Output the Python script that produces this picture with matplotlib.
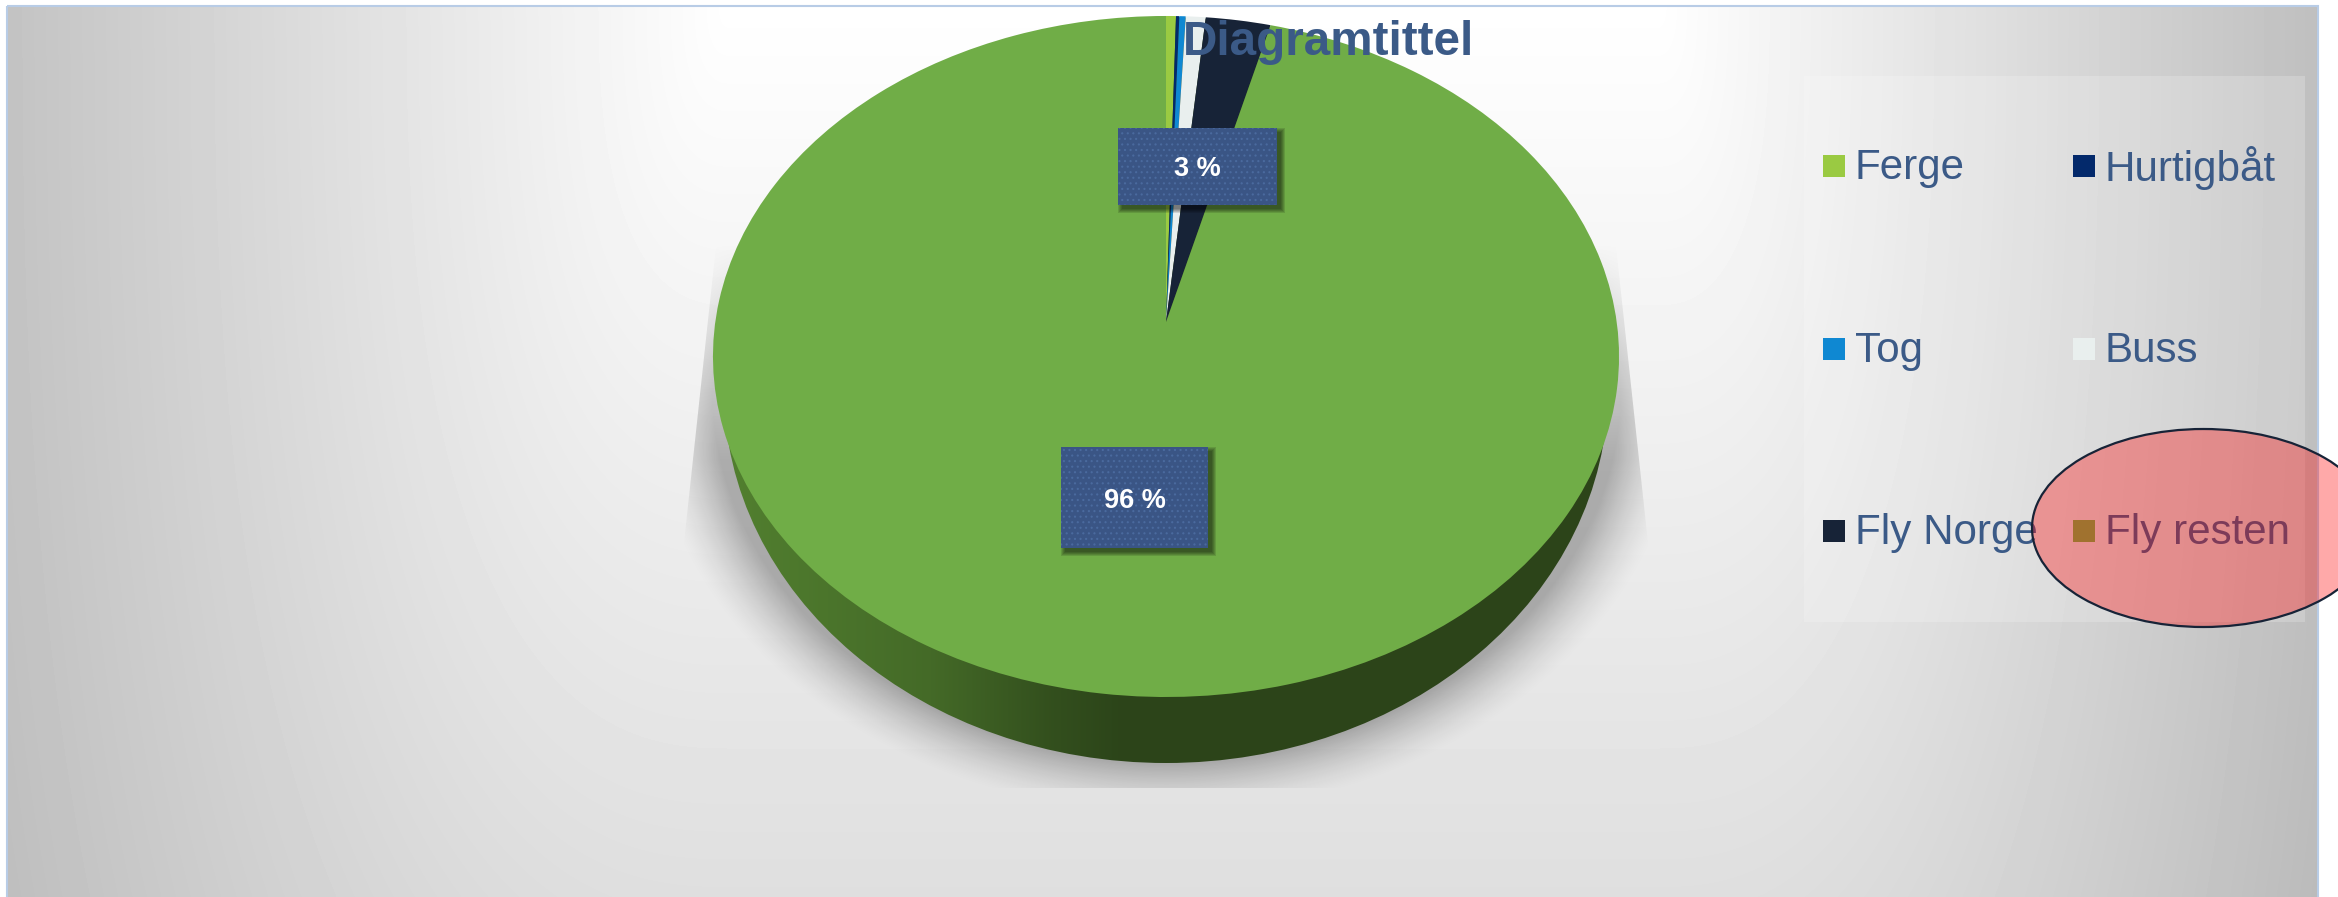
import matplotlib
matplotlib.use("Agg")
import matplotlib.pyplot as plt
import numpy as np
from matplotlib.patches import Ellipse, Polygon, Rectangle
from matplotlib.transforms import Transform

plt.rcParams['font.family'] = ['Liberation Sans', 'DejaVu Sans']
plt.rcParams['hatch.linewidth'] = 0.8

# Data
categories = ["Ferge", "Hurtigbåt", "Tog", "Buss", "Fly Norge", "Fly resten"]
shares = [0.39, 0.13, 0.25, 0.78, 2.55, 95.90]
slice_colors = ["#9ACA42", "#03296B", "#0F88D2", "#E9EFEE", "#172337", "#70AD47"]
labelled = ["Fly Norge", "Fly resten"]
title = "Diagramtittel"

W, H = 2338, 897
TEXT = "#3B5A87"
BOX = "#3A5585"


class Tilt(Transform):
    # perspective from the unit circle of the pie to pixels
    input_dims = output_dims = 2
    is_separable = False
    has_inverse = False

    def transform_non_affine(self, values):
        v = np.asarray(values, dtype=float)
        w = 1 + 0.1013 * v[:, 1]
        return np.column_stack([1166 + 450.7 * v[:, 0] / w,
                                (322 - 304.4 * v[:, 1]) / w])


fig = plt.figure(figsize=(W / 100, H / 100), dpi=100)
ax = fig.add_axes([0, 0, 1, 1])

wedges, _ = ax.pie(shares, colors=slice_colors, startangle=90, counterclock=False,
                   wedgeprops={'linewidth': 0})
ax.set_aspect('auto')
ax.set_xlim(0, W)
ax.set_ylim(H, 0)
ax.axis('off')
tilt = Tilt() + ax.transData
for w in wedges:
    w.set_transform(tilt)
    w.set_zorder(5)

# Background
xx, yy = np.meshgrid(np.arange(W), np.arange(H))
drop_x = np.maximum(0.083 * (730 - xx), 0.0967 * (xx - 1656))
drop_x = np.clip(drop_x, 0, None)
drop = (drop_x ** 2.5 + (yy * 32 / 890) ** 2.5) ** (1 / 2.5)
im = ax.imshow(255 - drop, cmap='gray', vmin=0, vmax=255, extent=(0, W, H, 0), aspect='auto', zorder=0)
im.set_clip_path(Rectangle((7, 6), 2311, H, transform=ax.transData))
ax.add_patch(Rectangle((6.5, 6), 2311.5, H, facecolor='none', edgecolor="#B8CCE6", lw=1.5, zorder=1))

# Shadow under the pie
r = np.sqrt(((xx - 1166) / 522) ** 2 + ((yy - 390) / 425) ** 2)
shadow = np.zeros((H, W, 4))
shadow[..., 3] = 0.28 * np.clip((1 - r) / 0.13, 0, 1) ** 1.5 * np.clip((yy - 240) / 220, 0, 1)
im = ax.imshow(shadow, extent=(0, W, H, 0), aspect='auto', zorder=2)
im.set_clip_path(Polygon([(716, 246), (683, 552), (683, 788), (1649, 788), (1649, 552), (1616, 246)],
                         closed=True, transform=ax.transData))

# Rim of the pie
rim_col = np.interp(np.arange(W), [724, 930, 1050, 1120, 1620], [0x52, 0x44, 0x33, 0x2C, 0x2C])
rim = np.zeros((1, W, 3))
rim[0, :, 0] = rim_col / 255
rim[0, :, 1] = (rim_col * 1.56) / 255
rim[0, :, 2] = (rim_col * 0.58) / 255
im = ax.imshow(rim, extent=(0, W, H, 0), aspect='auto', zorder=3)
im.set_clip_path(Ellipse((1166, 390), 884, 746, transform=ax.transData))

ax.set_xlim(0, W)
ax.set_ylim(H, 0)

# Data labels
boxes = [(1118, 128, 159, 77), (1061, 447, 147, 101)]
for name, (x, y, bw, bh) in zip(labelled, boxes):
    for g in range(5):
        ax.add_patch(Rectangle((x + 4 - g, y + 4 - g), bw + 2 * g, bh + 2 * g, facecolor='black',
                               alpha=0.12, lw=0, zorder=6))
    ax.add_patch(Rectangle((x, y), bw, bh, facecolor=BOX, edgecolor="#4A6A9E", hatch='...', lw=0, zorder=7))
    ax.text(x + bw / 2, y + bh / 2 + 3, f"{shares[categories.index(name)]:.0f} %", color='white', fontsize=19.5,
            fontweight='bold', ha='center', va='center', zorder=8)

ax.text(1183, 55, title, color=TEXT, fontsize=34.3, fontweight='bold', ha='left', va='baseline', zorder=9)

# Legend panel
ax.add_patch(Rectangle((1804, 76), 501, 546, facecolor='white', alpha=0.2, lw=0, zorder=4))
legend_x = [1823, 2073]
legend_y = [166, 349, 531]
for i, name in enumerate(categories):
    x, y = legend_x[i % 2], legend_y[i // 2]
    ax.add_patch(Rectangle((x, y - 11), 22, 22, facecolor=slice_colors[i], lw=0, zorder=9))
    ax.text(x + 32, y + 2, name, color=TEXT, fontsize=30.3, ha='left', va='center', zorder=9)

# Red ellipse over the last legend entry
ax.add_patch(Ellipse((2203.5, 528), 343, 198, facecolor=(1, 0, 0, 0.337), edgecolor="#172337", lw=1.6,
                     zorder=10))

fig.savefig("out.png", dpi=100)
